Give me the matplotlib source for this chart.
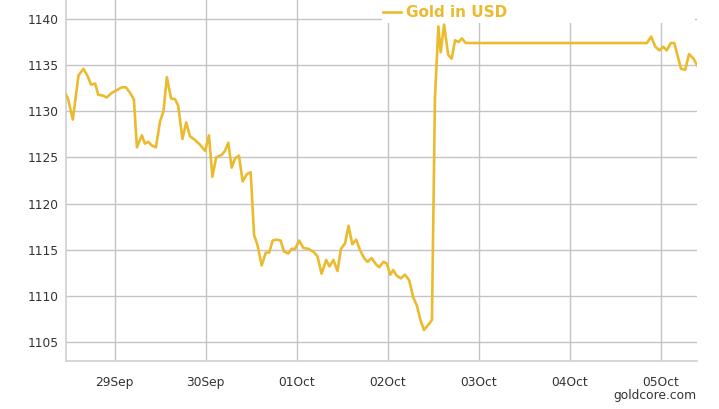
import numpy as np
import pandas as pd
import matplotlib
matplotlib.use("Agg")
import matplotlib.pyplot as plt
import matplotlib.dates as mdates
from matplotlib.patches import Rectangle

# hours since 28 Sep 2015 00:00 and gold price in USD
hours = [11.2, 11.7, 13.0, 14.5, 15.8, 16.8, 17.8, 18.9, 19.7, 21.0, 21.9, 23.3,
         24.6, 25.9, 27.0, 28.1, 29.1, 29.9, 31.2, 32.0, 32.9, 33.8, 34.9, 36.0,
         36.9, 37.8, 38.9, 40.0, 40.8, 41.9, 42.9, 43.9, 45.2, 46.5, 47.9, 48.9,
         49.8, 50.8, 52.3, 53.1, 54.0, 54.9, 55.8, 56.8, 57.8, 58.9, 59.9, 60.8,
         61.7, 62.8, 63.9, 64.8, 65.7, 66.8, 67.8, 68.7, 69.8, 70.7, 71.6, 72.7,
         73.8, 75.1, 76.4, 77.5, 78.6, 79.8, 80.7, 81.7, 82.8, 83.7, 84.8, 85.7,
         86.7, 87.7, 88.7, 89.8, 90.7, 91.8, 93.0, 93.8, 94.9, 95.8, 96.7, 97.5,
         98.4, 99.5, 100.6, 101.7, 102.8, 103.7, 104.6, 105.6, 106.8, 107.7, 108.5,
         109.4, 110.0, 110.9, 112.0, 112.9, 113.8, 114.7, 115.6, 116.6, 164.4,
         165.5, 166.6, 167.7, 168.7, 169.6, 170.7, 171.6, 173.4, 174.5, 175.5,
         176.7, 177.6]
price = [1131.8, 1131.4, 1129.1, 1133.9, 1134.6, 1133.9, 1132.9, 1133.0, 1131.8, 1131.7, 1131.5, 1132.0,
         1132.3, 1132.6, 1132.6, 1132.0, 1131.3, 1126.1, 1127.4, 1126.5, 1126.7, 1126.3, 1126.1, 1128.9,
         1130.0, 1133.7, 1131.4, 1131.3, 1130.6, 1127.0, 1128.8, 1127.3, 1126.9, 1126.4, 1125.7, 1127.4,
         1122.9, 1125.0, 1125.3, 1125.7, 1126.6, 1123.9, 1124.9, 1125.2, 1122.4, 1123.2, 1123.4, 1116.6,
         1115.5, 1113.3, 1114.7, 1114.7, 1116.0, 1116.1, 1116.0, 1114.8, 1114.6, 1115.1, 1115.1, 1116.0,
         1115.2, 1115.1, 1114.8, 1114.3, 1112.4, 1113.9, 1113.2, 1113.9, 1112.7, 1115.1, 1115.7, 1117.6,
         1115.6, 1116.1, 1115.0, 1114.1, 1113.7, 1114.1, 1113.4, 1113.1, 1113.7, 1113.5, 1112.3, 1112.8,
         1112.2, 1111.9, 1112.3, 1111.7, 1109.8, 1109.0, 1107.5, 1106.3, 1106.9, 1107.4, 1131.5,
         1139.2, 1136.4, 1139.4, 1136.1, 1135.7, 1137.7, 1137.5, 1137.9, 1137.4, 1137.4,
         1138.1, 1137.0, 1136.6, 1137.0, 1136.6, 1137.4, 1137.4, 1134.6, 1134.5, 1136.2,
         1135.7, 1135.0]

start = pd.Timestamp("2015-09-28")
times = start + pd.to_timedelta(hours, unit="h")

gold = "#EBBB2F"
grid_col = "#c4c4c4"
txt_col = "#333333"

fig = plt.figure(figsize=(7.19, 4.09), dpi=100)
ax = fig.add_axes([66/719, 1 - 361/409, 631/719, 361/409])

ax.plot(times, price, color=gold, lw=1.9, label="Gold in USD", zorder=3)

ax.set_xlim(start + pd.Timedelta(hours=11.2), start + pd.Timedelta(hours=177.6))
ax.set_ylim(1102.95, 1142.06)
ax.set_yticks(np.arange(1105, 1141, 5))
ax.xaxis.set_major_locator(mdates.DayLocator())
ax.xaxis.set_major_formatter(mdates.DateFormatter("%d%b"))

ax.grid(True, color=grid_col, lw=1)
ax.set_axisbelow(True)
for s in ["top", "right"]:
    ax.spines[s].set_visible(False)
for s in ["left", "bottom"]:
    ax.spines[s].set_color("#d0d0d0")
    ax.spines[s].set_linewidth(1.2)
ax.tick_params(length=0, labelsize=8.8, labelcolor=txt_col)
ax.tick_params(axis="x", pad=11)
ax.tick_params(axis="y", pad=5)

# white box behind the legend
ax.add_patch(Rectangle((316/631, 1 - 23/361), 313/631, 23/361, transform=ax.transAxes,
                       facecolor="white", edgecolor="none", zorder=1))
leg = ax.legend(loc="upper left", bbox_to_anchor=(317/631, 0.986), frameon=False,
                handlelength=1.15, handletextpad=0.35, borderpad=0, borderaxespad=0,
                prop={"weight": "bold", "size": 11}, labelcolor=gold)

fig.text(697/719, 1 - 396/409, "goldcore.com", ha="right", va="center",
         fontsize=8.8, color=txt_col)

fig.savefig("out.png", dpi=100)
